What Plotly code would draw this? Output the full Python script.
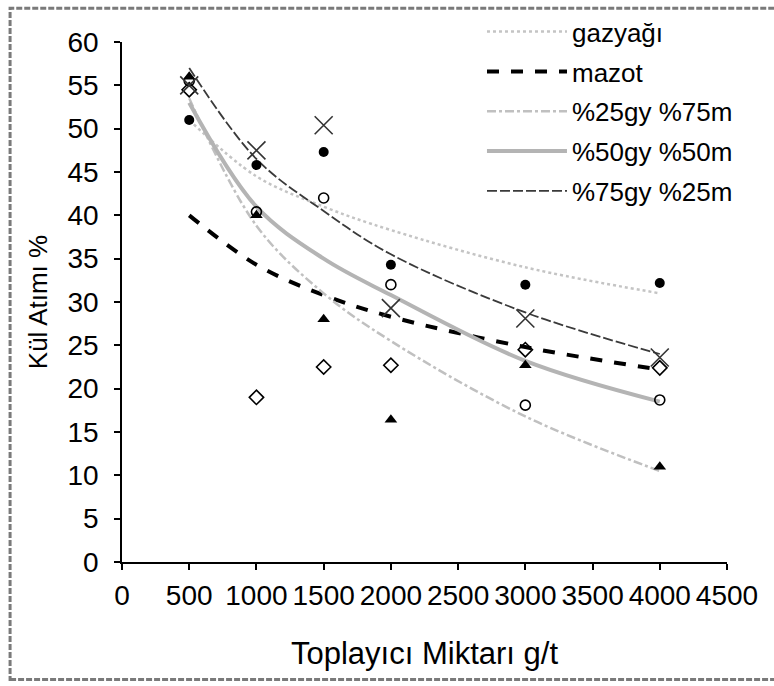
import plotly.graph_objects as go

# Collector dosage (g/t)
dosage = [500, 1000, 1500, 2000, 3000, 4000]

# Measured ash removal (%) for each collector mix
gazyagi = [51.0, 45.8, 47.3, 34.3, 32.0, 32.2]
mazot = [54.5, 19.0, 22.5, 22.7, 24.5, 22.4]
gy25_m75 = [56.0, 40.0, 28.0, 16.4, 22.7, 11.0]
gy50_m50 = [55.5, 40.4, 42.0, 32.0, 18.1, 18.7]
gy75_m25 = [55.0, 47.5, 50.4, 29.3, 28.1, 23.6]

# Trend curves evaluated at the same dosages
trend_gazyagi = [51.0, 44.5, 41.0, 38.3, 34.0, 31.0]
trend_mazot = [40.0, 34.3, 30.8, 28.3, 24.8, 22.2]
trend_gy25 = [53.5, 38.8, 31.0, 25.5, 16.8, 10.5]
trend_gy50 = [53.0, 41.0, 35.0, 30.8, 23.2, 18.5]
trend_gy75 = [57.0, 46.5, 40.5, 35.5, 28.8, 24.0]

series_names = ["gazyağı", "mazot", "%25gy %75m", "%50gy %50m", "%75gy %25m"]
x_ticks = [0, 500, 1000, 1500, 2000, 2500, 3000, 3500, 4000, 4500]
y_ticks = [0, 5, 10, 15, 20, 25, 30, 35, 40, 45, 50, 55, 60]

FONT = "Liberation Sans, Arial, sans-serif"

fig = go.Figure()

trend_styles = [
    (trend_gazyagi, dict(color="#c4c4c4", width=2.5, dash="dot")),
    (trend_mazot, dict(color="#000000", width=4, dash="dash")),
    (trend_gy25, dict(color="#c0c0c0", width=2.5, dash="dashdot")),
    (trend_gy50, dict(color="#b4b4b4", width=4, dash="solid")),
    (trend_gy75, dict(color="#3a3a3a", width=1.8, dash="10px,3px")),
]
for name, (vals, line) in zip(series_names, trend_styles):
    fig.add_trace(go.Scatter(
        x=dosage, y=vals, mode="lines", name=name, line=dict(shape="spline", **line),
        legendgroup=name, hoverinfo="skip",
    ))

marker_styles = [
    (gazyagi, dict(symbol="circle", size=10, color="#000000")),
    (mazot, dict(symbol="diamond-open", size=11, color="#000000", line=dict(width=1.6))),
    (gy25_m75, dict(symbol="triangle-up", size=11, color="#000000")),
    (gy50_m50, dict(symbol="circle-open", size=10, color="#000000", line=dict(width=1.6))),
    (gy75_m25, dict(symbol="x-thin", size=18, color="#333333", line=dict(width=1.6, color="#333333"))),
]
for name, (vals, marker) in zip(series_names, marker_styles):
    fig.add_trace(go.Scatter(
        x=dosage, y=vals, mode="markers", name=name, marker=marker,
        showlegend=False, legendgroup=name,
    ))

axis_common = dict(
    showgrid=False, zeroline=False, showline=True, linecolor="#000000", linewidth=1.5,
    ticks="outside", ticklen=6, tickwidth=1.5, tickcolor="#000000",
    tickfont=dict(family=FONT, size=28, color="#000000"), automargin=False,
)
fig.update_xaxes(range=[0, 4500], tickvals=x_ticks, ticktext=[str(v) for v in x_ticks],
                 ticklabelstandoff=2,
                 title=dict(text="Toplayıcı Miktarı g/t", font=dict(family=FONT, size=31, color="#000000"), standoff=32),
                 **axis_common)
fig.update_yaxes(range=[0, 60], tickvals=y_ticks, ticktext=[str(v) for v in y_ticks],
                 ticklabelstandoff=10,
                 title=dict(text="Kül Atımı %", font=dict(family=FONT, size=26, color="#000000"), standoff=12),
                 **axis_common)

# Outer dashed frame around the chart
fig.add_shape(type="rect", xref="paper", yref="paper", x0=-0.185, x1=1.3, y0=-0.226, y1=1.065,
              line=dict(color="#7a7a7a", width=3, dash="6px,2px"), layer="below")

fig.update_layout(
    width=774, height=686,
    margin=dict(l=122, r=47, t=42, b=124, autoexpand=False),
    paper_bgcolor="#ffffff", plot_bgcolor="#ffffff",
    font=dict(family=FONT, color="#000000"),
    legend=dict(x=0.595, y=1.065, xanchor="left", yanchor="top", bgcolor="rgba(0,0,0,0)",
                font=dict(family=FONT, size=26, color="#000000"), tracegroupgap=3, itemwidth=80),
    showlegend=True,
)

fig.write_html("out.html")
